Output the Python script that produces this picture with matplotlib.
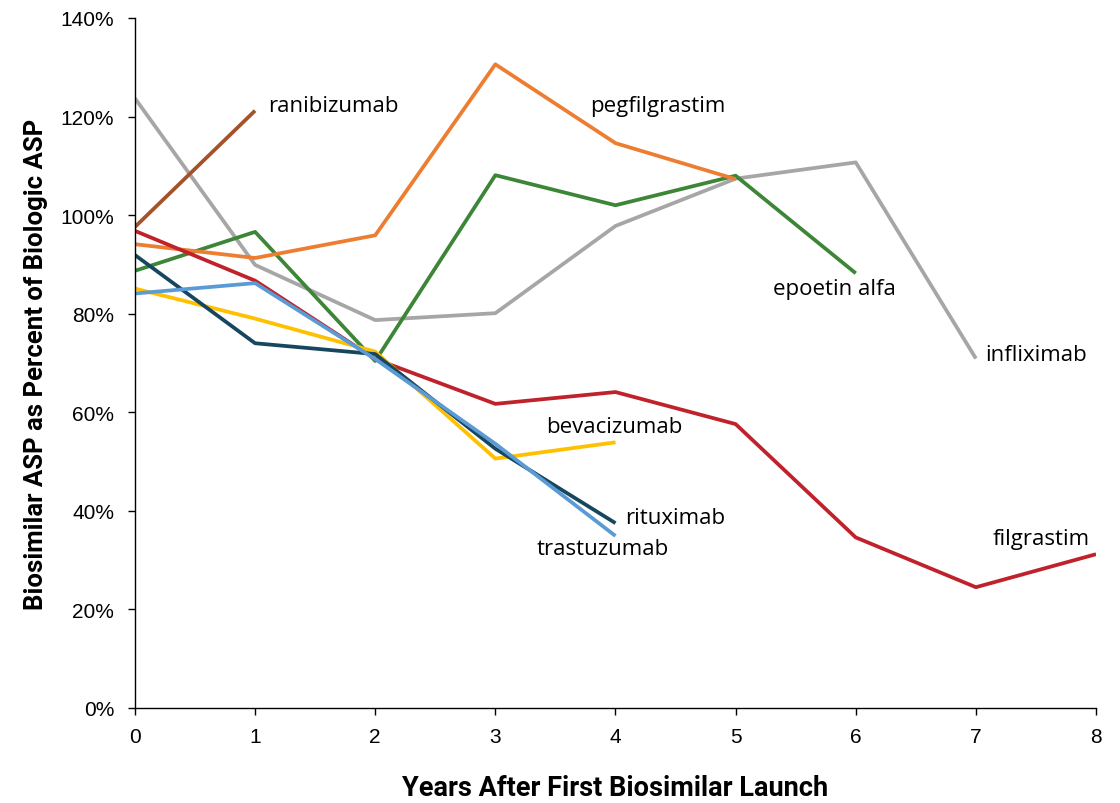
import matplotlib.pyplot as plt
from matplotlib.ticker import FuncFormatter

# Datos (ASP biosimilar como % del ASP biologico)
years = [0, 1, 2, 3, 4, 5, 6, 7, 8]

infliximab = [123.7, 89.9, 78.7, 80.1, 97.8, 107.4, 110.7, 70.9]
epoetin_alfa = [88.7, 96.6, 70.4, 108.1, 102.0, 108.0, 88.2]
pegfilgrastim = [94.1, 91.3, 95.9, 130.6, 114.6, 107.3]
filgrastim = [96.8, 86.7, 70.8, 61.7, 64.1, 57.6, 34.6, 24.5, 31.2]
bevacizumab = [85.1, 79.0, 72.3, 50.6, 53.9]
rituximab = [91.9, 74.0, 71.8, 52.6, 37.5]
trastuzumab = [84.1, 86.2, 70.8, 53.6, 34.9]
ranibizumab = [97.6, 121.2]

series = [
    ('infliximab', infliximab, '#A6A6A6'),
    ('epoetin alfa', epoetin_alfa, '#3D8537'),
    ('pegfilgrastim', pegfilgrastim, '#ED7D31'),
    ('filgrastim', filgrastim, '#C0222B'),
    ('bevacizumab', bevacizumab, '#FFC000'),
    ('rituximab', rituximab, '#17475F'),
    ('trastuzumab', trastuzumab, '#5B9BD5'),
    ('ranibizumab', ranibizumab, '#A3522A'),
]

# posicion de las etiquetas (x, y en unidades de datos)
label_pos = {
    'ranibizumab': (1.11, 122.3),
    'pegfilgrastim': (3.79, 122.3),
    'epoetin alfa': (5.31, 85.2),
    'infliximab': (7.08, 71.8),
    'bevacizumab': (3.42, 57.2),
    'rituximab': (4.08, 38.7),
    'trastuzumab': (3.34, 32.3),
    'filgrastim': (7.14, 34.3),
}

fig = plt.figure(figsize=(11.2, 8.04), dpi=100)
ax = fig.add_axes([0.1205, 0.1182, 0.8581, 0.8582])

for name, vals, color in series:
    ax.plot(years[:len(vals)], vals, color=color, linewidth=2.7, solid_capstyle='butt')

for name, (lx, ly) in label_pos.items():
    ax.text(lx, ly, name, fontsize=16, family='Open Sans', fontweight='medium',
            va='center', ha='left', color='black')

ax.set_xlim(0, 8)
ax.set_ylim(0, 140)
ax.set_xticks(years)
ax.set_yticks(range(0, 141, 20))
ax.yaxis.set_major_formatter(FuncFormatter(lambda v, p: f'{int(v)}%'))

for s in ['top', 'right']:
    ax.spines[s].set_visible(False)
for s in ['left', 'bottom']:
    ax.spines[s].set_linewidth(1.0)

ax.tick_params(axis='both', direction='out', length=5, width=1, labelsize=15)
ax.tick_params(axis='y', pad=10)
ax.tick_params(axis='x', pad=9)
for lbl in ax.get_xticklabels() + ax.get_yticklabels():
    lbl.set_family('Liberation Sans')

ax.set_xlabel('Years After First Biosimilar Launch', fontsize=19.5, fontweight='bold',
              family='Roboto', labelpad=20)
ax.set_ylabel('Biosimilar ASP as Percent of Biologic ASP', fontsize=18.5, fontweight='bold',
              family='Roboto', labelpad=9)

fig.savefig('out.png', dpi=100)
